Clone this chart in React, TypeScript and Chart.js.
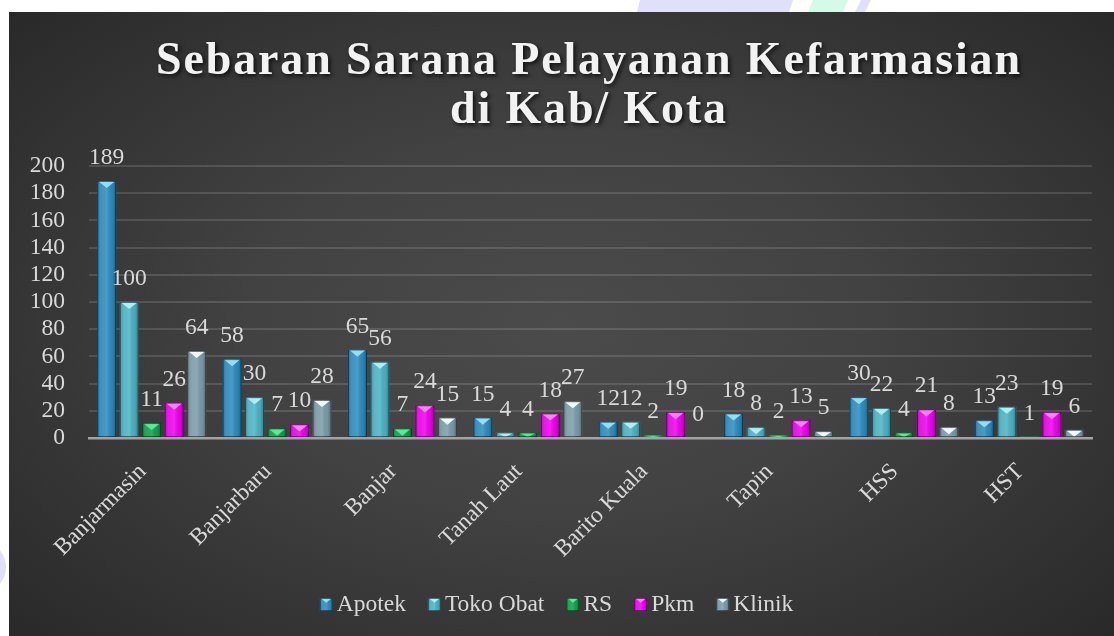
import React, { useEffect, useRef } from "react";
import { Chart, registerables } from "chart.js";

Chart.register(...registerables);

// ---------- data ----------
const categories = ["Banjarmasin", "Banjarbaru", "Banjar", "Tanah Laut", "Barito Kuala", "Tapin", "HSS", "HST"];
const apotek = [189, 58, 65, 15, 12, 18, 30, 13];
const tokoObat = [100, 30, 56, 4, 12, 8, 22, 23];
const rs = [11, 7, 7, 4, 2, 2, 4, 1];
const pkm = [26, 10, 24, 18, 19, 13, 21, 19];
const klinik = [64, 28, 15, 27, 0, 5, 8, 6];
const seriesNames = ["Apotek", "Toko Obat", "RS", "Pkm", "Klinik"];
const yMin = 0;
const yMax = 200;
const yStep = 20;
const titleLines = ["Sebaran Sarana Pelayanan Kefarmasian", "di Kab/ Kota"];

// ---------- styles ----------
const baseColors = ["#2c8cbd", "#4bb3c3", "#10a04c", "#ee00ee", "#7b9ca7"];
const lightColors = ["#8fe0f6", "#aaf0f6", "#55ec96", "#ff80ff", "#eefcff"];
const FONT = '"Liberation Serif", serif';
const FS = 23.5;
const TEXT = "#d9d9d9";

function drawBevel(ctx: CanvasRenderingContext2D, l: number, t: number, w: number, h: number, di: number) {
  const r = l + w;
  const cx = l + w / 2;
  ctx.save();
  ctx.beginPath();
  ctx.rect(l, t, w, h);
  ctx.clip();
  const g = ctx.createLinearGradient(l, 0, r, 0);
  g.addColorStop(0, "rgba(0,0,0,0.28)");
  g.addColorStop(0.25, "rgba(255,255,255,0.08)");
  g.addColorStop(0.5, "rgba(255,255,255,0.14)");
  g.addColorStop(0.8, "rgba(0,0,0,0.05)");
  g.addColorStop(1, "rgba(0,0,0,0.32)");
  ctx.fillStyle = g;
  ctx.fillRect(l, t, w, h);
  const d = Math.min(h, w * 0.37);
  ctx.beginPath();
  ctx.moveTo(l + 1.5, t + 0.5);
  ctx.lineTo(r - 1.5, t + 0.5);
  ctx.lineTo(cx, t + d);
  ctx.closePath();
  ctx.fillStyle = lightColors[di];
  ctx.fill();
  ctx.restore();
  if (h > 2) {
    ctx.strokeStyle = "rgba(0,0,0,0.45)";
    ctx.lineWidth = 1;
    ctx.strokeRect(l + 0.5, t + 0.5, w - 1, h - 1);
  }
}

const decoPlugin = {
  id: "deco",
  afterDatasetsDraw(chart: any) {
    const ctx: CanvasRenderingContext2D = chart.ctx;
    chart.data.datasets.forEach((ds: any, di: number) => {
      const meta = chart.getDatasetMeta(di);
      meta.data.forEach((bar: any) => {
        const p = bar.getProps(["x", "y", "base", "width"], true);
        const t = Math.min(p.y, p.base);
        const h = Math.abs(p.base - p.y);
        if (h <= 0) return;
        drawBevel(ctx, p.x - p.width / 2, t, p.width, h, di);
      });
    });
    // data labels
    ctx.save();
    ctx.font = `${FS}px ${FONT}`;
    ctx.fillStyle = TEXT;
    ctx.textAlign = "center";
    ctx.textBaseline = "alphabetic";
    chart.data.datasets.forEach((ds: any, di: number) => {
      const meta = chart.getDatasetMeta(di);
      meta.data.forEach((bar: any, i: number) => {
        const p = bar.getProps(["x", "y"], true);
        ctx.fillText(String(ds.data[i]), p.x, p.y - 17);
      });
    });
    ctx.restore();
  },
  afterDraw(chart: any) {
    const ctx: CanvasRenderingContext2D = chart.ctx;
    // title
    ctx.save();
    ctx.font = `bold 46px "Liberation Serif", serif`;
    const w0 = ctx.measureText(titleLines[0]).width;
    const ls = (864 - w0) / (titleLines[0].length - 1);
    (ctx as any).letterSpacing = `${ls}px`;
    ctx.textAlign = "left";
    ctx.textBaseline = "alphabetic";
    ctx.fillStyle = "#f2f2f2";
    ctx.shadowColor = "rgba(0,0,0,0.75)";
    ctx.shadowBlur = 4;
    ctx.shadowOffsetX = 2;
    ctx.shadowOffsetY = 2;
    const cx = 579;
    const baselines = [62, 111];
    titleLines.forEach((line, k) => {
      const w = ctx.measureText(line).width - ls;
      ctx.fillText(line, cx - w / 2, baselines[k]);
    });
    ctx.restore();

    // legend
    ctx.save();
    ctx.font = `${FS}px ${FONT}`;
    const box = 13;
    const gapText = 4;
    const gapItem = 22;
    const widths = seriesNames.map((n) => box + gapText + ctx.measureText(n).width);
    const total = widths.reduce((a, b) => a + b, 0) + gapItem * (seriesNames.length - 1);
    let x = 547.5 - total / 2;
    const by = 586;
    ctx.textAlign = "left";
    ctx.textBaseline = "alphabetic";
    seriesNames.forEach((n, i) => {
      ctx.fillStyle = baseColors[i];
      ctx.fillRect(x, by, box, box);
      drawBevel(ctx, x, by, box, box, i);
      ctx.fillStyle = TEXT;
      ctx.fillText(n, x + box + gapText, by + 13);
      x += widths[i] + gapItem;
    });
    ctx.restore();
  },
};

export default function App() {
  const ref = useRef<HTMLCanvasElement | null>(null);
  useEffect(() => {
    if (!ref.current) return;
    const series = [apotek, tokoObat, rs, pkm, klinik];
    const chart = new Chart(ref.current, {
      type: "bar",
      data: {
        labels: categories,
        datasets: series.map((d, i) => ({
          label: seriesNames[i],
          data: d,
          backgroundColor: baseColors[i],
          borderWidth: 0,
          categoryPercentage: 0.897,
          barPercentage: 0.845,
        })),
      },
      options: {
        responsive: false,
        animation: false,
        devicePixelRatio: 1,
        layout: { padding: { left: 17, right: 22, top: 154, bottom: 0 } },
        plugins: {
          legend: { display: false },
          title: { display: false },
          tooltip: { enabled: false },
        },
        scales: {
          x: {
            grid: { display: false, drawTicks: false },
            border: { display: true, color: "#a3a3a3", width: 2.5 },
            ticks: {
              color: TEXT,
              font: { family: FONT, size: FS },
              minRotation: 45,
              maxRotation: 45,
              autoSkip: false,
              padding: 20,
              labelOffset: -9,
            },
            afterFit: (s: any) => {
              s.height = 198;
            },
          },
          y: {
            min: yMin,
            max: yMax,
            ticks: {
              stepSize: yStep,
              autoSkip: false,
              color: TEXT,
              font: { family: FONT, size: FS },
              padding: 24,
            },
            grid: { color: "rgba(255,255,255,0.13)", lineWidth: 2, drawTicks: false },
            border: { display: false },
            afterFit: (s: any) => {
              s.width = 63;
            },
          },
        },
      },
      plugins: [decoPlugin],
    } as any);
    return () => chart.destroy();
  }, []);

  return (
    <div style={{ position: "absolute", left: 0, top: 0, width: 1114, height: 636, background: "#ffffff", overflow: "hidden" }}>
      <div style={{ position: "absolute", left: 637, top: 0, width: 156, height: 12, background: "#e0e0f8", clipPath: "polygon(3px 0, 156px 0, 152px 12px, 0 12px)" }} />
      <div style={{ position: "absolute", left: 808, top: 0, width: 40, height: 12, background: "#d2fbe9", clipPath: "polygon(5px 0, 40px 0, 35px 12px, 0 12px)" }} />
      <div style={{ position: "absolute", left: 855, top: 0, width: 16, height: 12, background: "#e0e0f8", clipPath: "polygon(6px 0, 16px 0, 10px 12px, 0 12px)" }} />
      <div style={{ position: "absolute", left: -46, top: 541, width: 52, height: 52, borderRadius: "50%", background: "#e0e0f8" }} />
      <div
        style={{
          position: "absolute",
          left: 9,
          top: 12,
          width: 1105,
          height: 624,
          background: "radial-gradient(ellipse 70% 75% at 50% 50%, #4b4b4b 0%, #424242 40%, #333333 75%, #282828 100%)",
        }}
      >
        <canvas ref={ref} width={1105} height={624} style={{ display: "block", width: 1105, height: 624 }} />
      </div>
    </div>
  );
}
